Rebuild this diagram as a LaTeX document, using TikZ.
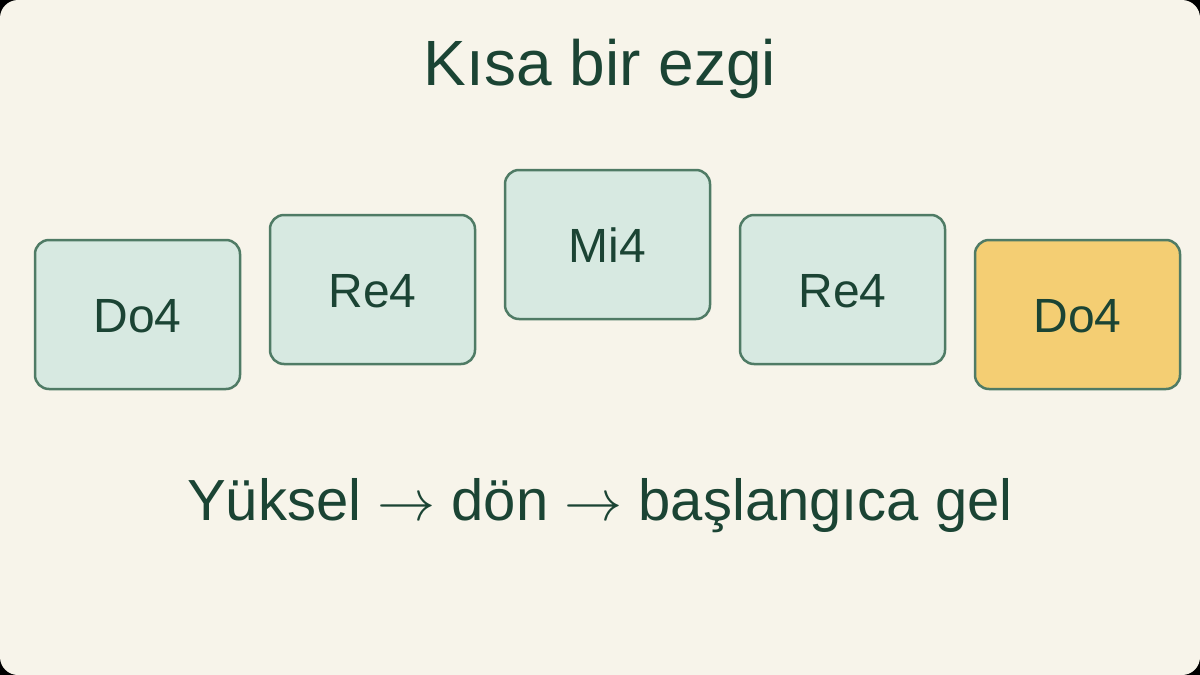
\documentclass[tikz,border=0pt]{standalone}
\usepackage{graphicx}
\usepackage{fontspec}
\setmainfont{Liberation Sans}
\definecolor{bgc}{HTML}{F7F4EA}
\definecolor{boxfill}{HTML}{D7E9E1}
\definecolor{boxline}{HTML}{4F7B65}
\definecolor{hifill}{HTML}{F4CE73}
\definecolor{txt}{HTML}{1B4434}
\newcommand{\bigarrow}{\scalebox{2.8}{\fontsize{20}{24}\selectfont$\rightarrow$}}
\begin{document}
\begin{tikzpicture}[x=1pt,y=-1pt,
  note/.style={draw=boxline,line width=2.5pt,rounded corners=14pt,fill=boxfill,
    minimum width=205pt,minimum height=149pt,inner sep=0pt},
  hinote/.style={note,fill=hifill},
  lbl/.style={text=txt,font=\fontsize{48}{56}\selectfont,anchor=base,inner sep=0pt},
  big/.style={text=txt,font=\fontsize{58}{66}\selectfont,anchor=base,inner sep=0pt}]
\useasboundingbox (0,0) rectangle (1200,675);
\fill[black] (0,0) rectangle (1200,675);
\fill[bgc,rounded corners=18pt] (0,0) rectangle (1200,675);
\node[big,font=\fontsize{64}{72}\selectfont] (title) at (600,85) {Kısa bir ezgi};
\node[note] (n1) at (137.5,314.5) {};
\node[note] (n2) at (372.5,289.5) {};
\node[note] (n3) at (607.5,244.5) {};
\node[note] (n4) at (842.5,289.5) {};
\node[hinote] (n5) at (1077.5,314.5) {};
\node[lbl] (l1) at ([yshift=-17.5pt]n1.center) {Do4};
\node[lbl] (l2) at ([yshift=-17.5pt]n2.center) {Re4};
\node[lbl] (l3) at ([yshift=-17.5pt]n3.center) {Mi4};
\node[lbl] (l4) at ([yshift=-17.5pt]n4.center) {Re4};
\node[lbl] (l5) at ([yshift=-17.5pt]n5.center) {Do4};
\node[big] (sub) at (600,520) {Yüksel \bigarrow{} dön \bigarrow{} başlangıca gel};
\end{tikzpicture}
\end{document}
